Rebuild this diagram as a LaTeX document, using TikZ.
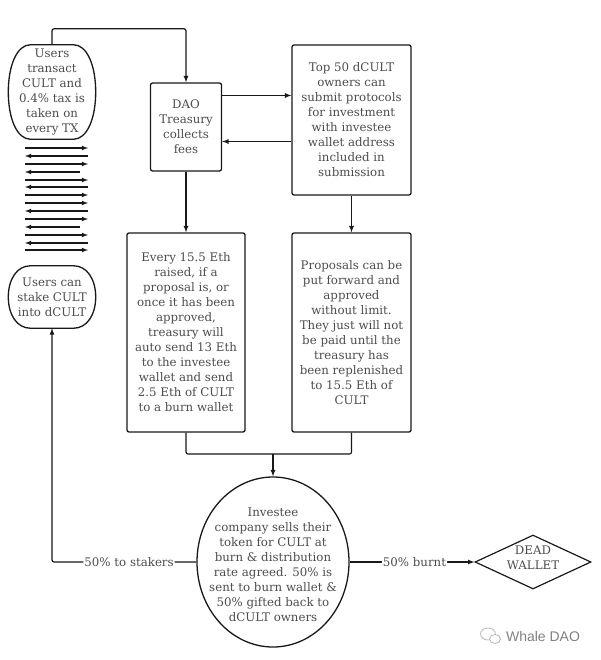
\documentclass[tikz,border=0pt]{standalone}
\usepackage{fontspec}
\setmainfont{DejaVu Serif}
\setsansfont{Liberation Sans}
\usetikzlibrary{shapes.geometric, arrows}
\definecolor{inktext}{gray}{0.3}
\tikzstyle{textstyle} = [align=center, text=inktext, font=\fontsize{11.8}{15}\selectfont, inner sep=0pt]
\tikzstyle{process} = [textstyle, rectangle, rounded corners=2pt, draw=black!90, line width=1.3pt]
\tikzstyle{users} = [textstyle, rectangle, minimum width=87pt]
\tikzstyle{arrow} = [line width=1.2pt, black!90, ->, >=latex, rounded corners=2pt]
\tikzstyle{line} = [line width=1.2pt, black!90, rounded corners=2pt]
\tikzstyle{flow} = [line width=1.1pt, black!90, >=latex]
\tikzstyle{edgetext} = [textstyle, fill=white, inner xsep=1pt]

\begin{document}
\begin{tikzpicture}[x=1pt, y=1pt]
  \useasboundingbox (0,0) rectangle (600,-660);
  \node (transact) [users, minimum height=94pt] at (52,-92) {Users\\transact\\CULT and\\0.4\% tax is\\taken on\\every TX};
  \node (stake) [users, minimum height=62pt, below of = transact, node distance=205pt] {Users can\\stake CULT\\into dCULT};

  % barrel outline of the two user boxes
  \foreach \name/\bend in {transact/20, stake/13}{
    \draw[line width=1.3pt, black!90] ([xshift=22pt]\name.north west) -- ([xshift=-22pt]\name.north east)
      .. controls ([xshift=-9pt]\name.north east) and ([yshift=-\bend pt]\name.north east) .. (\name.east)
      .. controls ([yshift=\bend pt]\name.south east) and ([xshift=-9pt]\name.south east) .. ([xshift=-22pt]\name.south east)
      -- ([xshift=22pt]\name.south west)
      .. controls ([xshift=9pt]\name.south west) and ([yshift=\bend pt]\name.south west) .. (\name.west)
      .. controls ([yshift=-\bend pt]\name.north west) and ([xshift=9pt]\name.north west) .. ([xshift=22pt]\name.north west) -- cycle;
  }

  \node (treasury) [process, minimum width=71pt, minimum height=88pt] at (186,-127) {DAO\\Treasury\\collects\\fees};
  \node (every) [process, minimum width=118pt, minimum height=199pt, below of = treasury, node distance=205.5pt] {Every 15.5 Eth\\raised, if a\\proposal is, or\\once it has been\\approved,\\treasury will\\auto send 13 Eth\\to the investee\\wallet and send\\2.5 Eth of CULT\\to a burn wallet};
  \node (top) [process, minimum width=119pt, minimum height=150pt] at (351.5,-120) {Top 50 dCULT\\owners can\\submit protocols\\for investment\\with investee\\wallet address\\included in\\submission};
  \node (proposals) [process, minimum width=119pt, minimum height=199pt, below of = top, node distance=212.5pt] {Proposals can be\\put forward and\\approved\\without limit.\\They just will not\\be paid until the\\treasury has\\been replenished\\to 15.5 Eth of\\CULT};

  \node (investee) [textstyle, ellipse, draw=black!90, line width=1.3pt, minimum width=152pt, minimum height=170pt, inner sep=-30pt] at (273,-562) {\rule{0pt}{15pt}Investee\\company sells their\\token for CULT at\\burn \& distribution\\rate agreed. 50\% is\\sent to burn wallet \&\\50\% gifted back to\\dCULT owners};
  \node (dead) [textstyle, diamond, aspect=2.15, draw=black!90, line width=1.2pt, minimum width=116pt, minimum height=54pt, inner sep=-20pt, text depth=9pt] at (533,-562) {DEAD\\WALLET};

  % transactions between the two user boxes
  \foreach \ypos/\xleft/\xright/\tips in {148/25/88/->, 156/25/88/<-, 164/25/88/->, 172/25/80/<-, 180/25/88/->, 187/25/88/<-, 195/25/88/->, 203/25/88/->, 211/25/88/<-, 219/25/88/->, 227/25/80/<-, 235/25/88/->, 243/25/88/<-, 250/25/88/->}{
    \coordinate (txa) at (\xleft,-\ypos);
    \coordinate (txb) at (\xright,-\ypos);
    \draw[flow, \tips] (txa) -- (txb);
  }

  \draw[arrow] (transact.north) --++(0,16) -| (treasury.north);
  \draw[arrow] ([yshift=31.5pt]treasury.east) -- ([yshift=24.5pt]top.west);
  \draw[arrow] ([yshift=-21.5pt]top.west) -- ([yshift=-14.5pt]treasury.east);
  \draw[arrow] (treasury) -- (every);
  \draw[arrow] (top) -- (proposals);

  \coordinate (merge) at (investee.north |- 0,-454);
  \draw[line] (every.south) |- (merge);
  \draw[line] (proposals.south) |- (merge);
  \draw[arrow] (merge) -- (investee.north);

  \draw[arrow] (investee.west) -| node[edgetext, pos=0.233]{50\% to stakers} (stake.south);
  \draw[arrow] (investee.east) -- node[edgetext, pos=0.52]{50\% burnt} (dead.west);

  % watermark
  \node (wechat) [draw=black!30, ellipse, line width=0.7pt, minimum width=15pt, minimum height=12pt, inner sep=0pt] at (488,-634) {};
  \node (wechatb) [draw=black!30, fill=white, ellipse, line width=0.7pt, minimum width=11pt, minimum height=9pt, inner sep=0pt] at (495,-639) {};
  \node (whale) [text=black!50, font=\sffamily\fontsize{14}{16}\selectfont, inner sep=0pt] at (543,-636) {Whale DAO};
\end{tikzpicture}
\end{document}
